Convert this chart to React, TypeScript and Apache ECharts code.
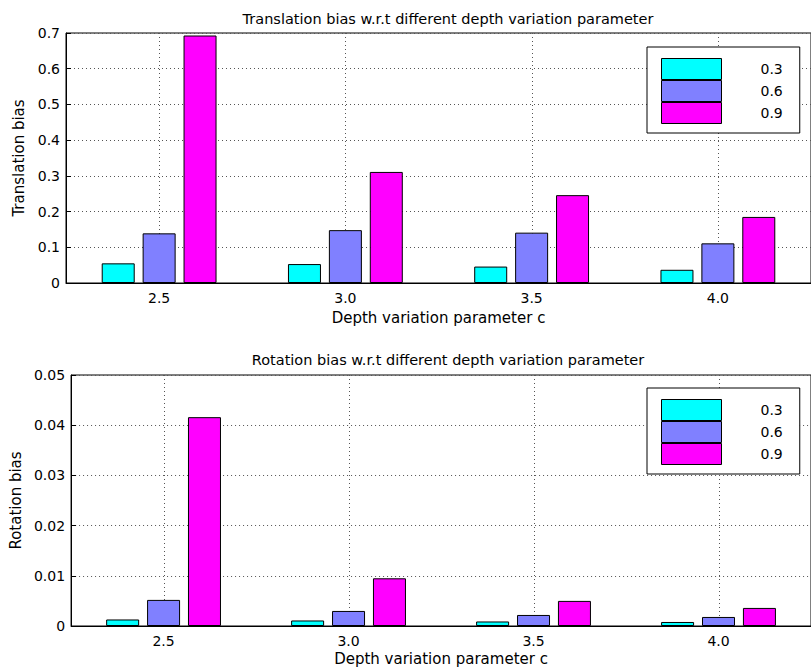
import React, { useEffect, useRef } from "react";
import * as echarts from "echarts";

const categories = ["2.5", "3.0", "3.5", "4.0"];
const seriesNames = ["0.3", "0.6", "0.9"];
const colors = ["#00ffff", "#8080ff", "#ff00ff"];

const translation03 = [0.055, 0.053, 0.046, 0.037];
const translation06 = [0.139, 0.148, 0.141, 0.111];
const translation09 = [0.693, 0.311, 0.246, 0.185];

const rotation03 = [0.0013, 0.0011, 0.0009, 0.0008];
const rotation06 = [0.0052, 0.003, 0.0022, 0.0018];
const rotation09 = [0.0416, 0.0095, 0.005, 0.0036];

const topTitle = "Translation bias w.r.t different depth variation parameter";
const bottomTitle = "Rotation bias w.r.t different depth variation parameter";
const xName = "Depth variation parameter c";

const FONT = "DejaVu Sans, Liberation Sans, Arial, sans-serif";

export default function App() {
  const ref = useRef<HTMLDivElement>(null);

  useEffect(() => {
    if (!ref.current) return;
    const chart = echarts.init(ref.current, undefined, { renderer: "svg" });

    const grids = [
      { left: 66, top: 33, width: 754, height: 250 },
      { left: 66, top: 375, width: 754, height: 251 },
    ];

    const gridLineStyle = { color: "#555", type: [1, 3], width: 1, opacity: 1 };

    const xAxisBase = (gridIndex: number, nameGap: number) => ({
      type: "category",
      gridIndex,
      data: categories,
      name: xName,
      nameLocation: "middle",
      nameGap,
      nameTextStyle: { color: "#000", fontSize: 15, fontFamily: FONT },
      axisLine: { lineStyle: { color: "#000", width: 1 } },
      axisTick: { show: true, inside: true, alignWithLabel: true, length: 5, lineStyle: { color: "#000" } },
      axisLabel: { color: "#000", fontSize: 14, fontFamily: FONT, margin: 8 },
      splitLine: { show: false },
    });

    const yAxisBase = (gridIndex: number, max: number, interval: number, name: string, nameGap: number, fmt: (v: number) => string) => ({
      type: "value",
      gridIndex,
      min: 0,
      max,
      interval,
      name,
      nameLocation: "middle",
      nameGap,
      nameTextStyle: { color: "#000", fontSize: 15, fontFamily: FONT },
      axisLine: { show: true, lineStyle: { color: "#000", width: 1 } },
      axisTick: { show: true, inside: true, length: 5, lineStyle: { color: "#000" } },
      axisLabel: { color: "#000", fontSize: 14, fontFamily: FONT, margin: 6, formatter: fmt },
      splitLine: { show: true, lineStyle: gridLineStyle },
    });

    const barSeries = (name: string, data: number[], idx: number, axisIdx: number) => ({
      type: "bar",
      name,
      xAxisIndex: axisIdx,
      yAxisIndex: axisIdx,
      data,
      barWidth: 33,
      barGap: "24%",
      z: 3,
      itemStyle: { color: colors[idx], borderColor: "#000", borderWidth: 1 },
    });

    // vertical dotted grid lines at the category centres, positioned by the category axis
    const vGrid = (axisIdx: number) => ({
      type: "custom",
      name: "vgrid" + axisIdx,
      xAxisIndex: axisIdx,
      yAxisIndex: axisIdx,
      data: categories.map((c, i) => [i, 0]),
      encode: { x: 0, y: 1 },
      silent: true,
      clip: false,
      z: 1,
      renderItem: (params: any, api: any) => {
        const pt = api.coord([api.value(0), 0]);
        const cs = params.coordSys;
        const x = Math.round(pt[0]) + 0.5;
        return {
          type: "line",
          shape: { x1: x, y1: cs.y, x2: x, y2: cs.y + cs.height },
          style: { stroke: "#555", lineWidth: 1, lineDash: [1, 3], fill: null },
          silent: true,
        };
      },
    });

    const legendBase = (top: number) => ({
      orient: "vertical",
      left: 647,
      top,
      data: seriesNames,
      itemWidth: 60,
      itemHeight: 21,
      itemGap: 0,
      icon: "rect",
      padding: [11, 17, 9, 14],
      borderColor: "#000",
      borderWidth: 1,
      backgroundColor: "#fff",
      selectedMode: false,
      itemStyle: { borderColor: "#000", borderWidth: 1 },
      textStyle: { color: "#000", fontSize: 14, fontFamily: FONT, padding: [0, 0, 0, 34] },
    });

    const fmtTop = (v: number) => (v === 0 ? "0" : v.toFixed(1));
    const fmtBot = (v: number) => (v === 0 ? "0" : v.toFixed(2));

    const titleStyle = { color: "#000", fontSize: 14.5, fontWeight: "normal", fontFamily: FONT };

    chart.setOption({
      animation: false,
      backgroundColor: "#fff",
      title: [
        { text: topTitle, left: 443, top: 6, textAlign: "center", textStyle: titleStyle },
        { text: bottomTitle, left: 443, top: 347, textAlign: "center", textStyle: titleStyle },
      ],
      grid: grids.map((g) => ({ ...g, show: true, borderColor: "#000", borderWidth: 1, backgroundColor: "transparent" })),
      xAxis: [xAxisBase(0, 27), xAxisBase(1, 25)],
      yAxis: [
        yAxisBase(0, 0.7, 0.1, "Translation bias", 31, fmtTop),
        yAxisBase(1, 0.05, 0.01, "Rotation bias", 43, fmtBot),
      ],
      legend: [legendBase(47), legendBase(388)],
      series: [
        vGrid(0),
        vGrid(1),
        barSeries(seriesNames[0], translation03, 0, 0),
        barSeries(seriesNames[1], translation06, 1, 0),
        barSeries(seriesNames[2], translation09, 2, 0),
        barSeries(seriesNames[0], rotation03, 0, 1),
        barSeries(seriesNames[1], rotation06, 1, 1),
        barSeries(seriesNames[2], rotation09, 2, 1),
      ],
    });

    return () => chart.dispose();
  }, []);

  return (
    <div
      ref={ref}
      style={{ position: "fixed", left: 0, top: 0, width: 811, height: 670, background: "#fff" }}
    />
  );
}
